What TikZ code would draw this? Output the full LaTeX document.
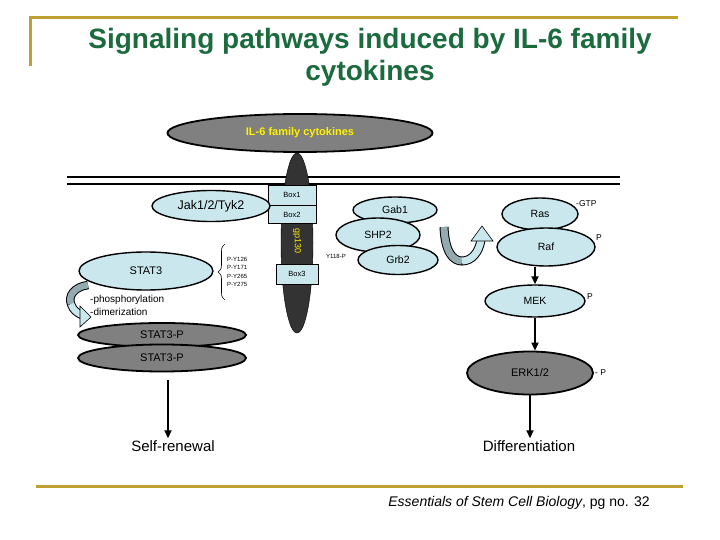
\documentclass[tikz,border=0pt]{standalone}
\usepackage{fontspec}
\setmainfont{Liberation Sans}
\usetikzlibrary{positioning,shapes.geometric,arrows.meta,decorations.pathreplacing}
\definecolor{titlegreen}{HTML}{1B6B3F}
\definecolor{rulegold}{HTML}{C0A030}
\definecolor{cellblue}{HTML}{C9E7EC}
\definecolor{cellgrey}{HTML}{808080}
\definecolor{receptor}{HTML}{333333}
\definecolor{ribbondark}{HTML}{93ABAF}

\begin{document}
\begin{tikzpicture}[x=1pt,y=-1pt,
  blueell/.style={ellipse,draw=black,line width=1.4pt,fill=cellblue,inner sep=0pt,font=\fontsize{10.5}{12}\selectfont},
  greyell/.style={ellipse,draw=black,line width=1.8pt,fill=cellgrey,inner sep=0pt,font=\fontsize{11}{12}\selectfont},
  boxnode/.style={rectangle,draw=black,line width=0.6pt,fill=cellblue,inner sep=0pt,font=\fontsize{7.5}{8}\selectfont},
  sigarrow/.style={-{Triangle[length=8pt,width=7pt]},line width=1.8pt},
  tinytxt/.style={font=\fontsize{6}{8.3}\selectfont,inner sep=0pt},
  ptxt/.style={font=\fontsize{8.5}{10}\selectfont,inner sep=0pt},
  bigtxt/.style={font=\fontsize{15}{17}\selectfont,inner sep=2pt}]

\useasboundingbox (0,0) rectangle (720,540);

% title and rules
\draw[rulegold,line width=3pt] (30,66) -- (30,18) -- (678,18);
\draw[rulegold,line width=3pt] (36,486) -- (683,486);
\node[font=\fontsize{28}{32}\selectfont\bfseries,text=titlegreen,align=center] (title) at (370,57)
  {Signaling pathways induced by IL-6 family\\cytokines};

% membrane
\draw[line width=1.2pt] (67,177) -- (620,177);
\draw[line width=1.2pt] (67,184) -- (620,184);

% receptor
\node[ellipse,draw=black,fill=receptor,minimum width=32pt,minimum height=180pt,inner sep=0pt] (gp130) at (297,243) {};
\node[greyell,minimum width=265pt,minimum height=38pt,text=yellow,font=\fontsize{11}{12}\selectfont\bfseries] (il6) at (300,133) {IL-6 family cytokines};
\node[boxnode,minimum width=48pt,minimum height=20pt] (box1) at (292,195) {Box1};
\node[boxnode,minimum width=48pt,minimum height=18pt,below=0pt of box1] (box2) {Box2};
\node[text=yellow,rotate=-90,font=\fontsize{9}{10}\selectfont,inner sep=0pt] (gplabel) at (297,241) {gp130};
\node[boxnode,minimum width=42pt,minimum height=20pt] (box3) at (297,274) {Box3};
\node[tinytxt,anchor=west] (y118) at (326,256) {Y118-P};

% STAT3 branch
\node[blueell,minimum width=118pt,minimum height=31pt,font=\fontsize{12.5}{14}\selectfont] (jak) at (211,206) {Jak1/2/Tyk2};
\node[blueell,minimum width=134pt,minimum height=38pt,font=\fontsize{11}{13}\selectfont] (stat3) at (146,271) {STAT3};
\node[tinytxt,align=left,anchor=west] (pytyr) at (227,272) {P-Y126\\P-Y171\\P-Y265\\P-Y275};
\draw[decorate,decoration={brace,amplitude=7pt},line width=0.6pt] (225,300) -- (225,244);

% curled arrow
\draw[line width=8.5pt] (88,285) .. controls (74,287) and (68,296) .. (71,304) .. controls (73,310) and (77,313) .. (82,315);
\draw[line width=6.5pt,ribbondark] (88,285) .. controls (74,287) and (68,296) .. (71,304);
\draw[line width=6.5pt,cellblue] (71,304) .. controls (73,310) and (77,313) .. (82,315);
\filldraw[fill=cellblue,draw=black,line width=0.6pt] (80,306) -- (91,317) -- (80,327) -- cycle;
\node[font=\fontsize{10}{13}\selectfont,align=left,anchor=west,inner sep=0pt] (stepnote) at (90,305) {-phosphorylation\\-dimerization};

\node[greyell,minimum width=168pt,minimum height=24pt] (statpa) at (162,335) {STAT3-P};
\node[greyell,minimum width=168pt,minimum height=27pt] (statpb) at (162,358) {STAT3-P};
\node[bigtxt] (selfren) at (173,446) {Self-renewal};
\draw[sigarrow] ([xshift=6pt,yshift=-8pt]statpb.south) -- ([xshift=-5pt]selfren.north);

% adaptor proteins
\node[blueell,minimum width=84pt,minimum height=26pt] (gab1) at (395,210) {Gab1};
\node[blueell,minimum width=84pt,minimum height=34pt] (shp2) at (378,235) {SHP2};
\node[blueell,minimum width=80pt,minimum height=29pt] (grb2) at (398,260) {Grb2};

% U-turn arrow
\draw[line width=9pt] (444,227) .. controls (445,252) and (453,261) .. (462,261) .. controls (472,261) and (479,252) .. (481,240);
\draw[line width=7pt,ribbondark] (444,227) .. controls (445,252) and (453,261) .. (462,261);
\draw[line width=7pt,cellblue] (462,261) .. controls (472,261) and (479,252) .. (481,240);
\filldraw[fill=cellblue,draw=black,line width=0.6pt] (471,241) -- (482,226) -- (493,241) -- cycle;

% MAPK branch
\node[blueell,minimum width=76pt,minimum height=32pt] (ras) at (540,214) {Ras};
\node[blueell,minimum width=98pt,minimum height=38pt] (raf) at (546,247) {Raf};
\node[ptxt,anchor=west] (gtp) at (576,204) {-GTP};
\node[ptxt,anchor=west] (rafp) at (596,238) {P};
\node[blueell,minimum width=100pt,minimum height=32pt] (mek) at (535,301) {MEK};
\node[ptxt,anchor=west] (mekp) at (587,297) {P};
\node[greyell,minimum width=126pt,minimum height=43pt] (erk) at (530,373) {ERK1/2};
\node[ptxt,anchor=west] (erkp) at (595,373) {- P};
\node[bigtxt] (diff) at (529,446) {Differentiation};

\draw[sigarrow] (mek.north |- raf.south) -- (mek.north);
\draw[sigarrow] (mek.south) -- (mek.south |- erk.north);
\draw[sigarrow] (erk.south) -- (erk.south |- diff.north);

% source
\node[font=\fontsize{14}{16}\selectfont,inner sep=0pt] (source) at (519,503) {\textit{Essentials of Stem Cell Biology}, pg no. 32};
\end{tikzpicture}
\end{document}
